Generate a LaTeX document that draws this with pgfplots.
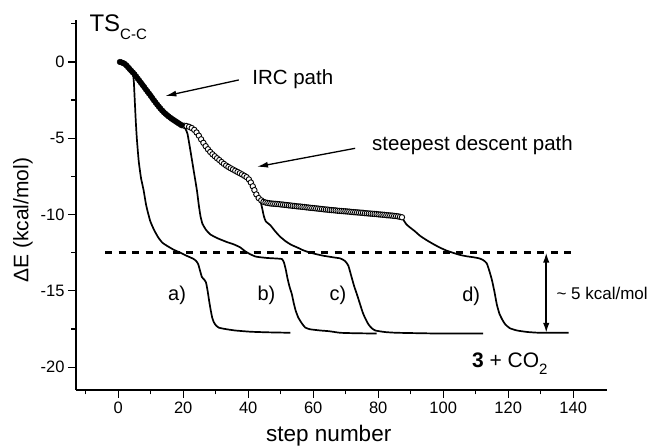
\documentclass[border=0pt]{standalone}
\usepackage{fontspec}
\setmainfont{Liberation Sans}
\usepackage{pgfplots}
\pgfplotsset{compat=1.18}
\usetikzlibrary{arrows.meta}

\newcommand{\fs}[1]{\fontsize{#1}{#1}\selectfont}

% IRC path (filled circles)
\pgfplotstableread{
x y
0.5 0.00
1.0 -0.03
1.5 -0.07
2.0 -0.13
2.5 -0.22
3.0 -0.34
3.5 -0.46
4.0 -0.58
4.5 -0.69
5.0 -0.81
5.5 -0.95
6.0 -1.09
6.5 -1.23
7.0 -1.37
7.5 -1.51
8.0 -1.65
8.5 -1.80
9.0 -1.94
9.5 -2.08
10.0 -2.22
10.5 -2.37
11.0 -2.52
11.5 -2.66
12.0 -2.80
12.5 -2.93
13.0 -3.06
13.5 -3.18
14.0 -3.29
14.5 -3.39
15.0 -3.48
15.5 -3.57
16.0 -3.65
16.5 -3.73
17.0 -3.80
17.5 -3.87
18.0 -3.94
18.5 -4.01
19.0 -4.08
19.5 -4.15
}\irc

% steepest descent path (open circles)
\pgfplotstableread{
x y
20.3 -4.18
21.0 -4.20
21.8 -4.25
22.6 -4.33
23.4 -4.45
24.1 -4.62
24.8 -4.83
25.5 -5.07
26.2 -5.30
26.9 -5.52
27.6 -5.72
28.3 -5.90
29.0 -6.05
29.7 -6.18
30.4 -6.31
31.1 -6.43
31.8 -6.56
32.5 -6.68
33.2 -6.79
33.9 -6.88
34.6 -6.97
35.3 -7.05
36.0 -7.13
36.7 -7.21
37.4 -7.29
38.1 -7.37
38.8 -7.46
39.5 -7.55
40.2 -7.70
40.8 -7.90
41.4 -8.15
41.9 -8.40
42.5 -8.68
43.2 -8.92
44.0 -9.07
44.7 -9.17
45.3 -9.21
45.9 -9.24
46.5 -9.26
47.1 -9.28
47.7 -9.29
48.3 -9.30
48.9 -9.31
49.5 -9.32
50.1 -9.34
50.7 -9.35
51.3 -9.37
51.9 -9.38
52.5 -9.40
53.1 -9.41
53.7 -9.43
54.3 -9.44
54.9 -9.46
55.5 -9.47
56.1 -9.48
56.7 -9.50
57.3 -9.51
57.9 -9.53
58.5 -9.54
59.1 -9.56
59.7 -9.57
60.3 -9.58
60.9 -9.60
61.5 -9.61
62.1 -9.63
62.7 -9.64
63.3 -9.66
63.9 -9.67
64.5 -9.68
65.1 -9.70
65.7 -9.71
66.3 -9.72
66.9 -9.73
67.5 -9.75
68.1 -9.76
68.7 -9.77
69.3 -9.78
69.9 -9.79
70.5 -9.80
71.1 -9.81
71.7 -9.83
72.3 -9.84
72.9 -9.85
73.5 -9.86
74.1 -9.87
74.7 -9.88
75.3 -9.89
75.9 -9.91
76.5 -9.92
77.1 -9.93
77.7 -9.94
78.3 -9.95
78.9 -9.96
79.5 -9.97
80.1 -9.99
80.7 -10.00
81.3 -10.01
81.9 -10.02
82.5 -10.04
83.1 -10.05
83.7 -10.06
84.3 -10.07
84.9 -10.09
85.5 -10.10
86.1 -10.12
86.7 -10.15
87.3 -10.18
}\sdp

\begin{document}
\begin{tikzpicture}
\useasboundingbox (-76pt,-56pt) rectangle (577pt,390pt);
\begin{axis}[
    anchor=south west, at={(0,0)},
    scale only axis, width=531pt, height=370pt,
    xmin=-13, xmax=150.4, ymin=-21.5, ymax=2.75,
    axis x line*=bottom, axis y line*=left,
    axis line style={line width=1.4pt, -},
    tick align=outside,
    major tick length=8pt, minor tick length=4.5pt,
    every tick/.style={black, line width=1.2pt},
    xtick={0,20,...,140}, minor xtick={-10,10,30,50,70,90,110,130},
    ytick={-20,-15,-10,-5,0}, yticklabels={-20,-15,-10,-5,0},
    minor ytick={-17.5,-12.5,-7.5,-2.5,2.5},
    tick label style={font=\fs{16.5}},
    /pgf/number format/assume math mode=true,
    xlabel={step number},
    xlabel style={font=\fs{22.5}, at={(axis description cs:0.476,0)}, anchor=base, yshift=-51.7pt},
    ylabel={ΔE (kcal/mol)},
    ylabel style={font=\fs{21}, at={(axis description cs:-0.0998,0.459)}, anchor=center},
    clip=false,
]

% reference level
\addplot[black, line width=3.2pt, dash pattern=on 7pt off 6.5pt] coordinates {(-4,-12.5) (141,-12.5)};

% a)
\addplot[black, line width=1.7pt, no markers, smooth, tension=0.3] coordinates {
(4.5,-0.69) (4.8,-1.3) (5.1,-2.6) (5.4,-3.9) (5.75,-5.1) (6.3,-6.5) (7.0,-7.6) (7.8,-8.4)
(8.6,-9.4) (9.8,-10.4) (11.0,-11.0) (12.3,-11.5) (13.6,-11.85) (15,-12.05) (17,-12.3)
(19.1,-12.5) (21,-12.7) (23.1,-12.9) (24.0,-13.05) (24.6,-13.25) (25.2,-13.7) (25.75,-14.1)
(26.4,-14.25) (27.0,-14.45) (27.5,-15.0) (28.0,-15.7) (28.4,-16.2) (28.9,-16.75) (29.4,-17.05)
(30.0,-17.25) (31,-17.42) (33.4,-17.52) (36,-17.6) (40.6,-17.68) (46,-17.72) (53,-17.75)
};

% b)
\addplot[black, line width=1.7pt, no markers, smooth, tension=0.3] coordinates {
(20.0,-4.2) (20.6,-4.35) (21.3,-4.7) (22.2,-5.8) (23.2,-7.1) (24.2,-8.4) (24.8,-9.4)
(25.3,-10.1) (25.9,-10.6) (27.0,-11.0) (28.3,-11.3) (30.5,-11.55) (33.4,-11.8) (35.5,-11.95)
(37.5,-12.15) (39.0,-12.4) (40.6,-12.6) (42.2,-12.75) (43.7,-12.8) (46,-12.85) (48.5,-12.88)
(50.4,-12.92) (51.0,-13.15) (51.5,-13.55) (52.1,-14.2) (52.8,-14.8) (53.4,-15.2) (54.0,-15.8)
(54.6,-16.3) (55.4,-16.75) (56.4,-17.1) (57.5,-17.4) (59,-17.52) (62.2,-17.6) (65,-17.65)
(68.3,-17.75) (73,-17.78) (79.5,-17.8)
};

% c)
\addplot[black, line width=1.7pt, no markers, smooth, tension=0.3] coordinates {
(43.6,-8.95) (44.2,-9.5) (44.8,-10.1) (45.4,-10.45) (46.8,-10.7) (48.3,-11.1) (49.8,-11.45)
(51.5,-11.75) (53.2,-11.98) (55,-12.15) (57,-12.35) (59.1,-12.5) (61,-12.6) (63.1,-12.7)
(66,-12.8) (68.4,-12.88) (69.8,-13.05) (70.8,-13.35) (71.8,-14.1) (72.6,-14.7) (73.4,-15.2)
(74.3,-15.8) (75.2,-16.4) (76.0,-16.8) (77,-17.2) (78,-17.45) (79.1,-17.6) (82,-17.7)
(85.8,-17.75) (99,-17.8) (112.3,-17.8)
};

% d)
\addplot[black, line width=1.7pt, no markers, smooth, tension=0.3] coordinates {
(87.3,-10.18) (87.9,-10.4) (88.7,-10.65) (89.8,-10.85) (91.3,-11.1) (92.9,-11.4) (94.9,-11.68)
(96.9,-11.93) (99,-12.17) (101.1,-12.37) (103.2,-12.52) (105.2,-12.65) (107.3,-12.74)
(109.3,-12.8) (111.2,-12.88) (112.4,-13.0) (113.4,-13.2) (114.2,-13.7) (115.0,-14.3)
(115.8,-15.1) (116.5,-15.9) (117.3,-16.5) (118.2,-16.9) (119.1,-17.2) (120.5,-17.45)
(122.7,-17.6) (126,-17.7) (129.8,-17.75) (138.6,-17.75)
};

% steepest descent path
\addplot[only marks, mark=*, mark size=2.7pt,
  mark options={fill=white, draw=black, line width=0.9pt}] table {\sdp};

% IRC path
\addplot[only marks, mark=*, mark size=2.8pt, black] table {\irc};

% annotations
\draw[line width=1.3pt, -{Latex[length=11pt,width=6pt]}] (axis cs:37.1,-1.18) -- (axis cs:14.5,-2.23);
\node[anchor=base west, font=\fs{20.5}, inner sep=0pt] at (axis cs:41.2,-1.46) {IRC path};
\draw[line width=1.3pt, -{Latex[length=11pt,width=6pt]}] (axis cs:72.9,-5.66) -- (axis cs:42.7,-6.87);
\node[anchor=base west, font=\fs{20.5}, inner sep=0pt] at (axis cs:78.1,-5.82) {steepest descent path};

\draw[line width=1.6pt, {Latex[length=10pt,width=6.5pt]}-{Latex[length=10pt,width=6.5pt]}]
  (axis cs:131.7,-12.5) -- (axis cs:131.7,-17.75);
\node[anchor=base west, font=\fs{17}, inner sep=0pt] at (axis cs:134.8,-15.56) {\char`~\ 5 kcal/mol};

\node[anchor=base, font=\fs{20}, inner sep=0pt] at (axis cs:18.1,-15.62) {a)};
\node[anchor=base, font=\fs{20}, inner sep=0pt] at (axis cs:45.6,-15.62) {b)};
\node[anchor=base, font=\fs{20}, inner sep=0pt] at (axis cs:67.6,-15.65) {c)};
\node[anchor=base, font=\fs{20}, inner sep=0pt] at (axis cs:108.6,-15.68) {d)};

\node[anchor=base west, font=\fs{21}, inner sep=0pt] at (axis cs:108.8,-20.05)
  {\textbf{3} + CO\raisebox{-7pt}{\fs{15}2}};
\node[anchor=base west, font=\fs{24}, inner sep=0pt] at (axis cs:-8.9,1.99)
  {TS\raisebox{-8.3pt}{\fs{15}C-C}};

\end{axis}
\end{tikzpicture}
\end{document}
